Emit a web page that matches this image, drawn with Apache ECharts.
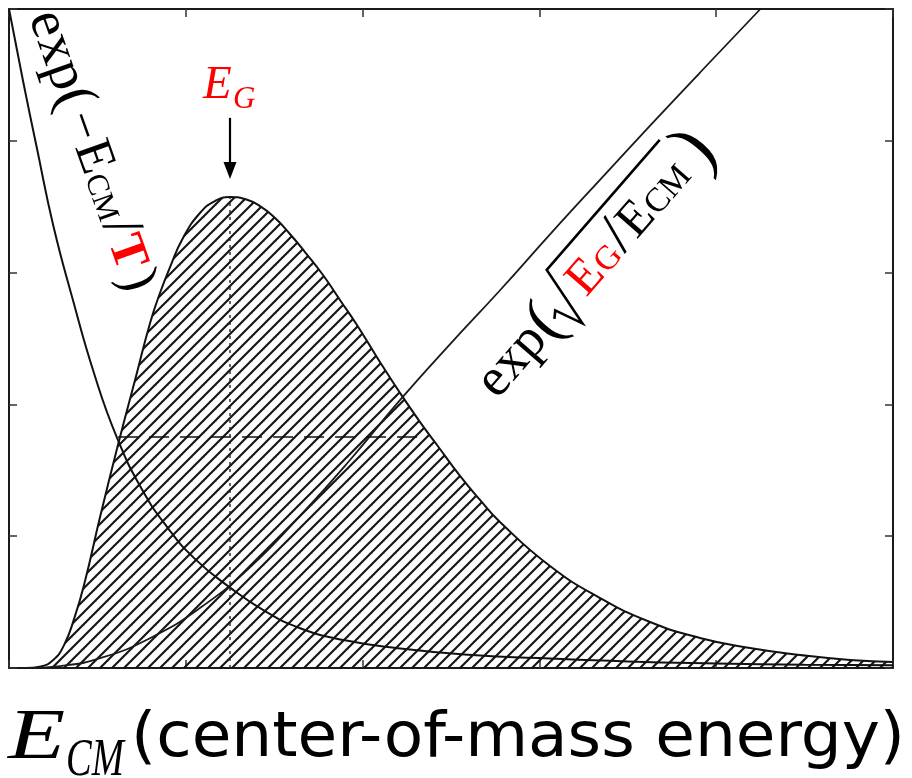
<!DOCTYPE html>
<html>
<head>
<meta charset="utf-8">
<script src="https://cdn.jsdelivr.net/npm/echarts@6/dist/echarts.min.js"></script>
<style>
  html, body { margin: 0; padding: 0; background: #fff; }
  #chart { width: 912px; height: 778px; }
</style>
</head>
<body>
<div id="chart"></div>
<script>
// Gamow peak (hatched) with the Boltzmann tail and the tunnelling factor.
// Energies and values are in grid units: 5 divisions on each axis.
const gamowEnergy = [0.10, 0.18, 0.25, 0.31, 0.37, 0.43, 0.515, 0.628, 0.713, 0.798, 0.854, 0.911, 0.984, 1.08, 1.165, 1.25, 1.335, 1.42, 1.505, 1.589, 1.674, 1.776, 1.872, 1.968, 2.098, 2.212, 2.325, 2.421, 2.551, 2.664, 2.777, 3.06, 3.343, 3.626, 3.908, 4.191, 4.474, 4.757, 5.0];
const gamowValue  = [0, 0.012, 0.06, 0.17, 0.38, 0.66, 1.146, 1.753, 2.185, 2.618, 2.845, 3.042, 3.263, 3.452, 3.543, 3.574, 3.558, 3.505, 3.414, 3.293, 3.156, 2.982, 2.792, 2.603, 2.322, 2.086, 1.866, 1.692, 1.457, 1.275, 1.108, 0.774, 0.531, 0.349, 0.228, 0.152, 0.099, 0.061, 0.046];

const tailEnergy = [0, 0.08, 0.16, 0.25, 0.36, 0.48, 0.61, 0.75, 0.9, 1.05, 1.25, 1.45, 1.65, 1.9, 2.2, 2.6, 3.0, 3.5, 4.0, 4.5, 5.0];
const tailValue  = [5.0, 4.45, 3.93, 3.36, 2.80, 2.24, 1.75, 1.36, 1.06, 0.83, 0.61, 0.43, 0.30, 0.21, 0.15, 0.10, 0.075, 0.05, 0.035, 0.025, 0.02];

const tunnelEnergy = [0.1, 0.29, 0.52, 0.8, 1.08, 1.36, 1.65, 1.93, 2.21, 2.49, 2.78, 3.06, 3.34, 3.63, 3.91, 4.25];
const tunnelValue  = [0, 0.015, 0.076, 0.228, 0.455, 0.76, 1.16, 1.58, 2.03, 2.45, 2.87, 3.29, 3.70, 4.12, 4.52, 5.0];

const axisTicks = [0, 1, 2, 3, 4, 5];
const peakEnergy = 1.25;
const peakHeight = 3.574;
const crossingLevel = 1.753;
const crossingFrom = 0.617;
const crossingTo = 2.36;

const zip = (xs, ys) => xs.map((x, i) => [x, ys[i]]);

// Diagonal hatch tile for the area under the peak
function hatchTile() {
  const c = document.createElement('canvas');
  const n = 12;
  c.width = n; c.height = n;
  const g = c.getContext('2d');
  g.strokeStyle = '#141414';
  g.lineWidth = 2.1;
  g.lineCap = 'square';
  [[-n, n, n, -n], [0, n, n, 0], [0, 2 * n, 2 * n, 0]].forEach(([a, b, d, e]) => {
    g.beginPath(); g.moveTo(a, b); g.lineTo(d, e); g.stroke();
  });
  return c;
}

const SERIF = '"Liberation Serif", "DejaVu Serif", serif';
const measureCtx = document.createElement('canvas').getContext('2d');
function textWidth(str, font) { measureCtx.font = font; return measureCtx.measureText(str).width; }
function textEl(x, y, text, font, fill, extra) {
  return Object.assign({
    type: 'text', x: x, y: y,
    style: { text: text, font: font, fill: fill || '#000',
             align: 'left', verticalAlign: 'middle', textAlign: 'left', textVerticalAlign: 'middle' }
  }, extra || {});
}

// Lay out a row of formula pieces along a rotated baseline
function formula(pieces, ox, oy, angleDeg, decorate) {
  let cursor = 0;
  const children = [];
  pieces.forEach(p => {
    cursor += p.gap || 0;
    p.x0 = cursor;
    if (p.text) {
      const font = `${p.italic ? 'italic ' : ''}${p.bold ? 'bold ' : ''}${p.size}px ${SERIF}`;
      children.push(textEl(cursor, (p.dy || 0) - 0.3 * p.size, p.text, font, p.color));
      cursor += textWidth(p.text, font) + (p.after || 0);
    } else {
      cursor += p.width;
    }
    p.x1 = cursor;
  });
  if (decorate) decorate(children, pieces);
  return { type: 'group', x: ox, y: oy, rotation: angleDeg * Math.PI / 180, children: children, silent: true };
}

const RED = '#ff0000';

const tailLabel = formula([
  { text: 'exp', size: 56 },
  { text: '(', size: 58, gap: 1 },
  { text: '\u2212', size: 50, gap: 5 },
  { text: 'E', size: 52, gap: 3 },
  { text: 'CM', size: 31, gap: 1 },
  { text: '/', size: 58, gap: 2 },
  { text: 'T', size: 50, bold: true, color: RED, gap: 1 },
  { text: ')', size: 54, gap: 5 }
], 27, 18, -70.5);

const radical = { width: 26, gap: 4 };
const tunnelPieces = [
  { text: 'exp', size: 54 },
  { text: '(', size: 64, dy: 3, gap: 1 },
  radical,
  { text: 'E', size: 50, color: RED, gap: 5 },
  { text: 'G', size: 34, color: RED, gap: 1 },
  { text: '/', size: 60, gap: 2 },
  { text: 'E', size: 50, gap: 2 },
  { text: 'CM', size: 34, gap: 1, after: 6 },
  { text: ')', size: 74, dy: 6, gap: 4 }
];
const tunnelLabel = formula(tunnelPieces, 499, 401, 49, (children, pieces) => {
  const r = pieces[2];
  const end = pieces[7].x1;
  children.push({
    type: 'polyline',
    shape: { points: [[r.x0 - 6, -12], [r.x0 + 1, -17], [r.x0 + 9, 12], [r.x0 + r.width, -50], [end, -50]] },
    style: { stroke: '#000', lineWidth: 2.6, fill: null, lineJoin: 'miter' }
  });
});

const peakLabel = {
  type: 'group', silent: true,
  children: [
    textEl(203, 86, 'E', `italic 47px ${SERIF}`, RED),
    textEl(233, 100, 'G', `italic 31px ${SERIF}`, RED)
  ]
};

// Axis title: italic E_CM followed by the plain description, stretched to the frame width
const titleFont = '62px "DejaVu Sans Condensed", "DejaVu Sans", sans-serif';
const titleText = '(center-of-mass energy)';
const titleLeft = 131;
const titleStretch = (905 - titleLeft) / textWidth(titleText, titleFont);
const axisTitle = {
  type: 'group', silent: true,
  children: [
    textEl(8, 739, 'E', `italic 72px ${SERIF}`, '#000', { scaleX: 1.3 }),
    textEl(66, 761, 'CM', `italic 52px ${SERIF}`, '#000', { scaleX: 0.74 }),
    textEl(titleLeft, 740, titleText, titleFont, '#000', { scaleX: titleStretch })
  ]
};

const frameAxis = (pos) => ({
  type: 'value', min: axisTicks[0], max: axisTicks[axisTicks.length - 1], interval: 1,
  position: pos,
  axisLine: { show: true, onZero: false, lineStyle: { color: '#1a1a1a', width: 2 } },
  axisTick: { show: true, inside: true, length: 8, lineStyle: { color: '#333', width: 1.5 } },
  axisLabel: { show: false },
  splitLine: { show: false }
});

const curve = { type: 'line', smooth: 0.5, showSymbol: false };

const chart = echarts.init(document.getElementById('chart'), null, { renderer: 'canvas' });
chart.setOption({
  animation: false,
  backgroundColor: '#fff',
  grid: { left: 9, top: 9, width: 884, height: 659 },
  xAxis: [frameAxis('bottom'), frameAxis('top')],
  yAxis: [frameAxis('left'), frameAxis('right')],
  series: [
    Object.assign({}, curve, {
      name: 'gamow', z: 3,
      data: zip(gamowEnergy, gamowValue),
      lineStyle: { color: '#111', width: 2 },
      areaStyle: { color: { image: hatchTile(), repeat: 'repeat' }, opacity: 1, origin: 'start' }
    }),
    Object.assign({}, curve, {
      name: 'tail', z: 4,
      data: zip(tailEnergy, tailValue),
      lineStyle: { color: '#111', width: 2 }
    }),
    Object.assign({}, curve, {
      name: 'tunnel', z: 4,
      data: zip(tunnelEnergy, tunnelValue),
      lineStyle: { color: '#1a1a1a', width: 1.8 }
    }),
    {
      name: 'level', type: 'line', showSymbol: false, z: 5,
      data: [[crossingFrom, crossingLevel], [crossingTo, crossingLevel]],
      lineStyle: { color: '#111', width: 1.6, type: [20, 11] }
    },
    {
      name: 'peakLine', type: 'line', showSymbol: false, z: 5,
      data: [[peakEnergy, 0], [peakEnergy, peakHeight]],
      lineStyle: { color: '#222', width: 1.4, type: [3, 4] },
      markLine: {
        silent: true, symbol: ['none', 'triangle'], symbolSize: [13, 17],
        label: { show: false },
        lineStyle: { color: '#000', width: 2.2, type: 'solid' },
        data: [[{ coord: [peakEnergy, peakHeight + 0.6] }, { coord: [peakEnergy, peakHeight + 0.2] }]]
      }
    }
  ],
  graphic: [tailLabel, tunnelLabel, peakLabel, axisTitle]
});
</script>
</body>
</html>
